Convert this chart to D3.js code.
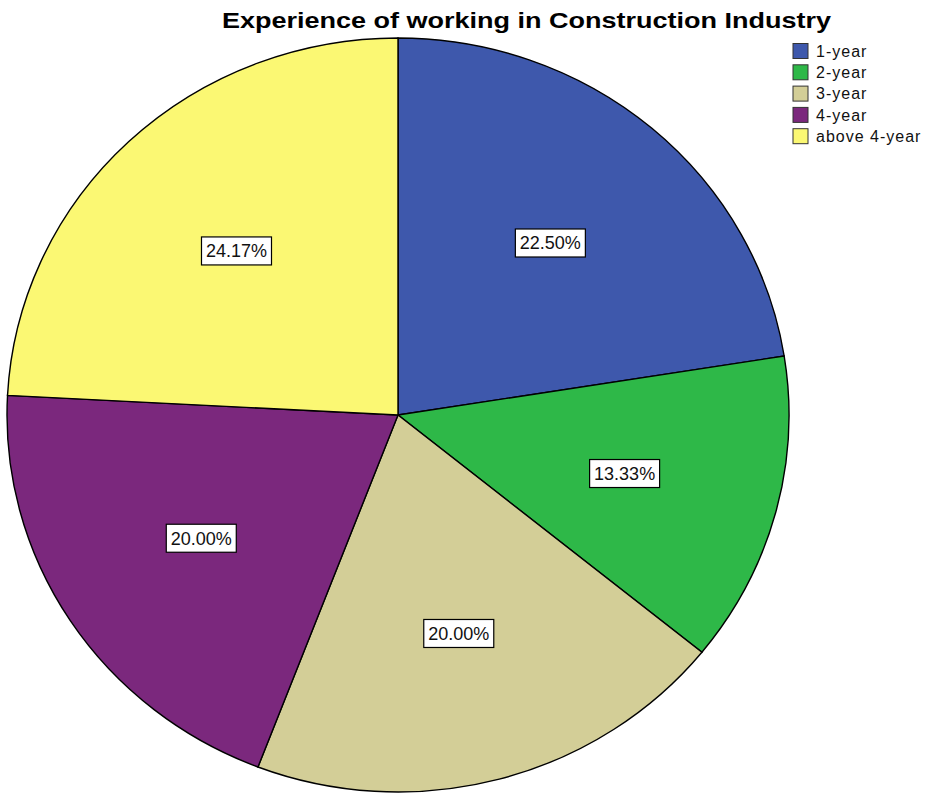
<!DOCTYPE html>
<html>
<head>
<meta charset="utf-8">
<script src="https://cdn.jsdelivr.net/npm/d3@7"></script>
<style>
    body { margin: 0; background: #fff; }
    text { font-family: "Liberation Sans", Arial, sans-serif; }
</style>
</head>
<body>
<div id="chart"></div>
<script>
const categories = ["1-year", "2-year", "3-year", "4-year", "above 4-year"];
const percents = [22.50, 13.33, 20.00, 20.00, 24.17];
const colors = ["#3e58ac", "#2eb848", "#d3ce97", "#7b287d", "#fbf873"];

class ExperiencePie {
    constructor(_parentElement, _data) {
        this.parentElement = _parentElement;
        this.data = _data;
        this.initVis();
    }

    initVis() {
        let vis = this;
        vis.width = 927;
        vis.height = 795;

        // SPSS stretches the pie a bit wider than tall
        vis.cx = 398;
        vis.cy = 415;
        vis.ry = 377;
        vis.rx = 391;

        vis.svg = d3.select("#" + vis.parentElement)
            .append("svg")
            .attr("width", vis.width)
            .attr("height", vis.height);

        // SPSS glyphs are wider than Liberation, so stretch the title to fit
        vis.svg.append("text")
            .attr("x", 222)
            .attr("y", 28)
            .attr("font-size", 22)
            .attr("font-weight", "bold")
            .attr("textLength", 609)
            .attr("lengthAdjust", "spacingAndGlyphs")
            .text("Experience of working in Construction Industry");

        vis.color = d3.scaleOrdinal().domain(categories).range(colors);

        vis.wrangleData();
    }

    wrangleData() {
        let vis = this;
        vis.pie = d3.pie().sort(null).value(d => d.value);
        vis.displayData = vis.pie(vis.data);
        vis.updateVis();
    }

    updateVis() {
        let vis = this;

        let arc = d3.arc().innerRadius(0).outerRadius(vis.ry);
        let labelArc = d3.arc().innerRadius(vis.ry * 0.6).outerRadius(vis.ry * 0.6);

        let g = vis.svg.append("g")
            .attr("transform", `translate(${vis.cx},${vis.cy}) scale(${vis.rx / vis.ry},1)`);

        g.selectAll("path.slice")
            .data(vis.displayData)
            .enter()
            .append("path")
            .attr("class", "slice")
            .attr("d", arc)
            .attr("fill", d => vis.color(d.data.name))
            .attr("stroke", "#000")
            .attr("stroke-width", 1.4)
            .attr("vector-effect", "non-scaling-stroke");

        // labels
        let labels = vis.svg.selectAll("g.label")
            .data(vis.displayData)
            .enter()
            .append("g")
            .attr("class", "label")
            .attr("transform", d => {
                let c = labelArc.centroid(d);
                return `translate(${vis.cx + c[0] * vis.rx / vis.ry},${vis.cy + c[1]})`;
            });

        labels.append("rect")
            .attr("x", -35)
            .attr("y", -14)
            .attr("width", 70)
            .attr("height", 28)
            .attr("fill", "#fff")
            .attr("stroke", "#000")
            .attr("stroke-width", 1.2);

        labels.append("text")
            .attr("text-anchor", "middle")
            .attr("dy", "0.36em")
            .attr("font-size", 18)
            .attr("fill", "#111")
            .text(d => d.data.value.toFixed(2) + "%");

        // legend
        let legend = vis.svg.selectAll("g.legend")
            .data(categories)
            .enter()
            .append("g")
            .attr("class", "legend")
            .attr("transform", (d, i) => `translate(793,${51 + i * 21.3})`);

        legend.append("rect")
            .attr("x", 0)
            .attr("y", -7.5)
            .attr("width", 15)
            .attr("height", 15)
            .attr("fill", d => vis.color(d))
            .attr("stroke", "#333")
            .attr("stroke-width", 1);

        legend.append("text")
            .attr("x", 23)
            .attr("dy", "0.36em")
            .attr("font-size", 16)
            .attr("letter-spacing", 1)
            .attr("fill", "#111")
            .text(d => d);
    }
}

let chartData = categories.map((c, i) => ({ name: c, value: percents[i] }));
new ExperiencePie("chart", chartData);
</script>
</body>
</html>
